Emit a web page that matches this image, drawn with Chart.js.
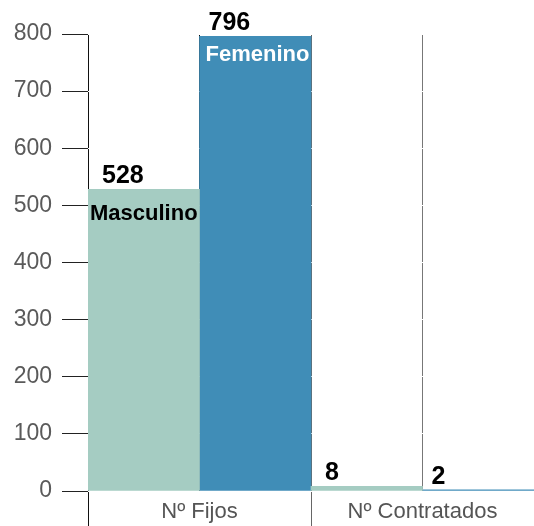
<!DOCTYPE html>
<html>
<head>
<meta charset="utf-8">
<script src="https://cdn.jsdelivr.net/npm/chart.js@4/dist/chart.umd.min.js"></script>
<style>
  html, body { margin: 0; padding: 0; background: #fff; }
  #wrap { width: 534px; height: 526px; }
</style>
</head>
<body>
<div id="wrap"><canvas id="plantilla"></canvas></div>
<script>
// Datos de la plantilla
const categorias = ['N\u00BA Fijos', 'N\u00BA Contratados'];
const masculino = [528, 8];
const femenino = [796, 2];
const ticksY = [0, 100, 200, 300, 400, 500, 600, 700, 800];

const FUENTE = '"Liberation Sans", Arial, sans-serif';

// Valores encima de cada barra y nombre de la serie dentro de la primera
const etiquetas = {
  id: 'etiquetas',
  afterDraw(chart) {
    const ctx = chart.ctx;
    chart.data.datasets.forEach((ds, i) => {
      const meta = chart.getDatasetMeta(i);
      meta.data.forEach((bar, j) => {
        const izq = bar.x - bar.width / 2;
        ctx.save();
        ctx.textAlign = 'left';
        ctx.textBaseline = 'alphabetic';
        ctx.fillStyle = '#000';
        ctx.font = 'bold 25px ' + FUENTE;
        ctx.fillText(String(ds.data[j]), izq + ds.sangria, bar.y - 6);
        if (j === 0) {
          ctx.font = 'bold 22px ' + FUENTE;
          ctx.fillStyle = ds.colorNombre;
          ctx.fillText(ds.label, izq + ds.sangriaNombre, bar.y + ds.bajadaNombre);
        }
        ctx.restore();
      });
    });
  }
};

// Una linea vertical por cada barra: color segun su posicion
const coloresDivision = ['rgba(0,0,0,0)', '#111', 'rgba(0,0,0,0)', '#777', 'rgba(0,0,0,0)'];

const ctx = document.getElementById('plantilla').getContext('2d');
new Chart(ctx, {
  type: 'bar',
  data: {
    labels: categorias,
    datasets: [
      {
        label: 'Masculino',
        data: masculino,
        backgroundColor: '#a5ccc2',
        sangria: 14, sangriaNombre: 2, bajadaNombre: 31, colorNombre: '#000'
      },
      {
        label: 'Femenino',
        data: femenino,
        backgroundColor: '#408db7',
        sangria: 9, sangriaNombre: 6, bajadaNombre: 25, colorNombre: '#fff'
      }
    ]
  },
  options: {
    responsive: true,
    maintainAspectRatio: false,
    animation: false,
    events: [],
    layout: { padding: { top: 34, right: 0, bottom: 0, left: 0 } },
    datasets: {
      bar: { barPercentage: 1, categoryPercentage: 1, borderWidth: 0 }
    },
    plugins: {
      legend: { display: false },
      tooltip: { enabled: false }
    },
    scales: {
      x: {
        type: 'category',
        z: 1,
        border: { display: false },
        grid: {
          offset: true,
          tickLength: 35,
          color: (c) => c.index === 0 ? '#111' : (c.index === 1 ? '#666' : 'rgba(0,0,0,0)'),
          tickColor: (c) => c.index === 0 ? '#111' : (c.index === 1 ? '#666' : 'rgba(0,0,0,0)')
        },
        ticks: {
          padding: -27,
          color: '#555',
          font: { family: FUENTE, size: 22 }
        },
        afterFit: (s) => { s.height = 35; }
      },
      x2: {
        type: 'category',
        labels: ['', '', '', ''],
        position: 'bottom',
        offset: true,
        z: 1,
        border: { display: false },
        ticks: { display: false },
        grid: {
          offset: true,
          drawTicks: false,
          color: (c) => coloresDivision[c.index] || 'rgba(0,0,0,0)'
        },
        afterFit: (s) => { s.height = 0; }
      },
      y: {
        min: 0,
        max: 800,
        z: 1,
        border: { display: false },
        afterBuildTicks: (s) => { s.ticks = ticksY.map(v => ({ value: v })); },
        grid: {
          color: '#ffffff',
          tickColor: '#222',
          tickLength: 26,
          lineWidth: 1
        },
        ticks: {
          padding: 10,
          color: '#5a5a5a',
          font: { family: FUENTE, size: 23 }
        },
        afterFit: (s) => { s.width = 88; }
      }
    }
  },
  plugins: [etiquetas]
});
</script>
</body>
</html>
